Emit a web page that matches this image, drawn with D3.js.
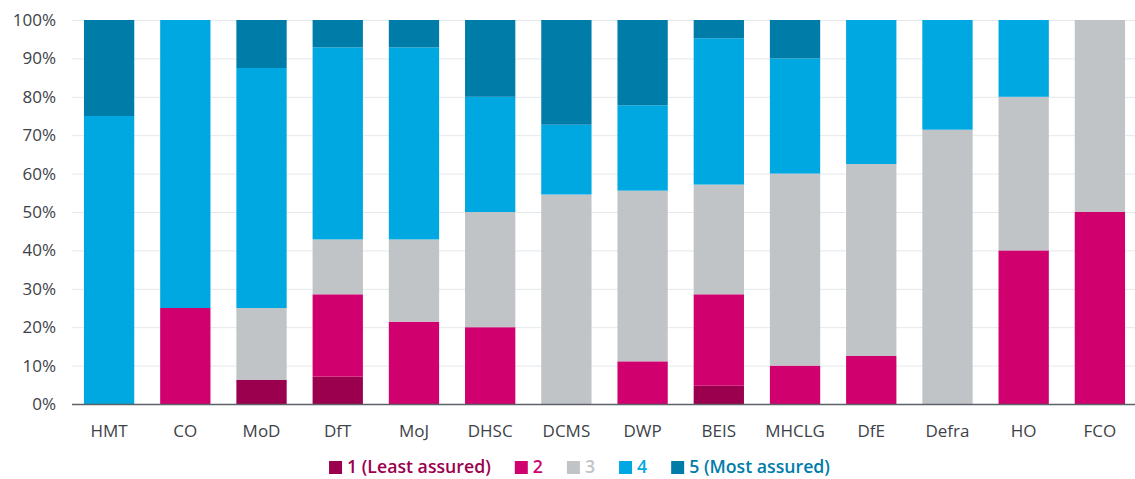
<!DOCTYPE html>
<html>
<head>
<meta charset="utf-8">
<script src="https://cdn.jsdelivr.net/npm/d3@7"></script>
<style>
  body { margin: 0; background: #fff; }
  svg text { font-family: "Open Sans", "Noto Sans", sans-serif; }
</style>
</head>
<body>
<div id="chart"></div>
<script>
// departments along the x axis
const departments = ["HMT", "CO", "MoD", "DfT", "MoJ", "DHSC", "DCMS", "DWP", "BEIS", "MHCLG", "DfE", "Defra", "HO", "FCO"];

// share of responses (%) at each assurance level
const level1 = [0, 0, 6.25, 7.14, 0, 0, 0, 0, 4.76, 0, 0, 0, 0, 0];
const level2 = [0, 25, 0, 21.43, 21.43, 20, 0, 11.11, 23.81, 10, 12.5, 0, 40, 50];
const level3 = [0, 0, 18.75, 14.29, 21.43, 30, 54.55, 44.45, 28.57, 50, 50, 71.43, 40, 50];
const level4 = [75, 75, 62.5, 50, 50, 30, 18.18, 22.22, 38.1, 30, 37.5, 28.57, 20, 0];
const level5 = [25, 0, 12.5, 7.14, 7.14, 20, 27.27, 22.22, 4.76, 10, 0, 0, 0, 0];

const levelNames = ["1 (Least assured)", "2", "3", "4", "5 (Most assured)"];
const levelColors = ["#9b004f", "#d0006f", "#c1c4c7", "#00a8e1", "#007ca9"];
const yTicks = [0, 10, 20, 30, 40, 50, 60, 70, 80, 90, 100];

const width = 1135, height = 479;
const margin = { top: 20, right: 0, bottom: 75, left: 72 };

const svg = d3.select("#chart").append("svg")
    .attr("width", width)
    .attr("height", height);

const rows = departments.map((d, i) => ({
    dept: d,
    l1: level1[i], l2: level2[i], l3: level3[i], l4: level4[i], l5: level5[i]
}));
const keys = ["l1", "l2", "l3", "l4", "l5"];
const stacked = d3.stack().keys(keys)(rows);

const x = d3.scaleBand()
    .domain(departments)
    .range([margin.left - 1, 1138])
    .paddingInner(0.34)
    .paddingOuter(0.17);

const y = d3.scaleLinear()
    .domain([0, 100])
    .range([height - margin.bottom, margin.top]);

// gridlines
svg.append("g")
    .selectAll("line")
    .data(yTicks)
    .join("line")
    .attr("x1", margin.left)
    .attr("x2", width)
    .attr("y1", d => y(d) + 0.5)
    .attr("y2", d => y(d) + 0.5)
    .attr("stroke", "#e4e8ec")
    .attr("stroke-width", 1);

// y labels
svg.append("g")
    .selectAll("text")
    .data(yTicks)
    .join("text")
    .attr("x", 56)
    .attr("y", d => y(d))
    .attr("dy", "0.35em")
    .attr("text-anchor", "end")
    .attr("fill", "#3d4248")
    .style("font-size", "17px")
    .text(d => d + "%");

// bars
svg.append("g")
    .selectAll("g")
    .data(stacked)
    .join("g")
    .attr("fill", (d, i) => levelColors[i])
    .selectAll("rect")
    .data(d => d)
    .join("rect")
    .attr("x", d => x(d.data.dept))
    .attr("width", x.bandwidth())
    .attr("y", d => y(d[1]))
    .attr("height", d => y(d[0]) - y(d[1]));

// x axis line
svg.append("line")
    .attr("x1", margin.left)
    .attr("x2", width)
    .attr("y1", y(0) + 0.5)
    .attr("y2", y(0) + 0.5)
    .attr("stroke", "#5d6269")
    .attr("stroke-width", 1.5);

// x labels
svg.append("g")
    .selectAll("text")
    .data(departments)
    .join("text")
    .attr("x", d => x(d) + x.bandwidth() / 2)
    .attr("y", 437)
    .attr("text-anchor", "middle")
    .attr("fill", "#3d4248")
    .style("font-size", "17px")
    .text(d => d);

// legend
const legend = svg.append("g");
let lx = 0;
levelNames.forEach((name, i) => {
    const item = legend.append("g").attr("transform", `translate(${lx},0)`);
    item.append("rect")
        .attr("x", 0).attr("y", -12)
        .attr("width", 13).attr("height", 13)
        .attr("fill", levelColors[i]);
    const t = item.append("text")
        .attr("x", 18).attr("y", 0)
        .attr("fill", levelColors[i])
        .style("font-size", "17.7px")
        .style("font-weight", "600")
        .text(name);
    lx += 18 + t.node().getComputedTextLength() + 24;
});
lx -= 24;
legend.attr("transform", `translate(${(width - lx) / 2 + 12},473)`);
</script>
</body>
</html>
